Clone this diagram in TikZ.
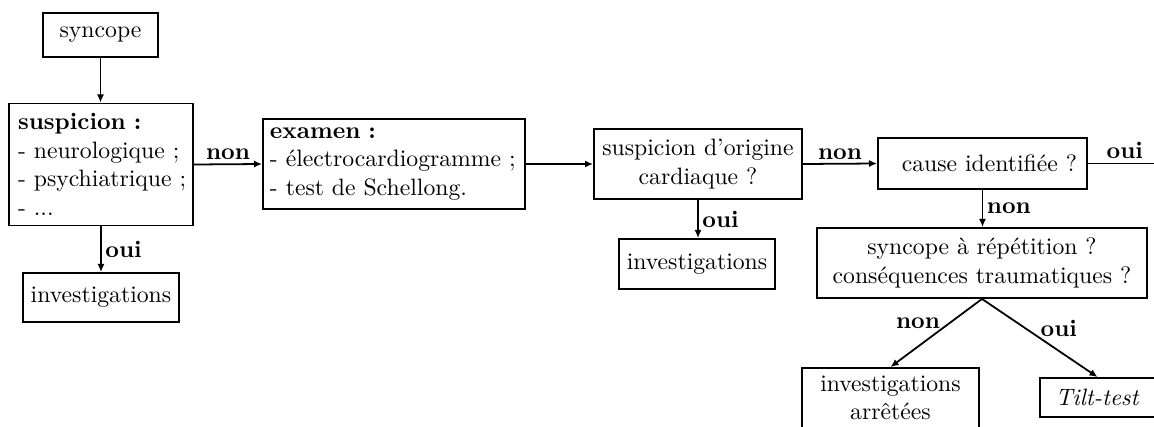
\documentclass[tikz,border=0pt]{standalone}
\usetikzlibrary{arrows.meta}
\tikzset{
  box/.style={draw, line width=0.8pt, inner sep=0pt, align=center},
  wh/.style 2 args={minimum width=#1*0.4219pt, minimum height=#2*0.4219pt},
  link/.style={line width=0.75pt},
  lab/.style={font=\bfseries, inner sep=1.5pt}
}
\begin{document}
\begin{tikzpicture}[
  x=0.4219pt, y=-0.4219pt,
  >={Latex[length=3.4pt,width=3pt]}
]
\useasboundingbox (0,0) rectangle (1154,427);
\clip (0,0) rectangle (1154,427);

% first column
\node[box, wh={115}{44}] (syncope) at (100.5,35) {syncope};
\node[box, align=left, inner xsep=0pt, text width=75pt, wh={184}{122},
  execute at begin node={\leftskip=2.5pt}]
  (susp) at (101,164.5)
  {\textbf{suspicion :}\\- neurologique ;\\- psychiatrique ;\\- ...};
\node[box, wh={156}{49}] (inv1) at (101,297.5) {investigations};

% examinations
\node[box, align=left, inner xsep=2.95pt, text width=104.64pt, wh={262}{90}]
  (exam) at (394,164)
  {\textbf{examen :}\\- électrocardiogramme ;\\- test de Schellong.};

% cardiac origin
\node[box, wh={208}{70}] (orig) at (698,164) {suspicion d'origine\\cardiaque ?};
\node[box, wh={156}{50}] (inv2) at (697,264) {investigations};

% cause
\node[box, align=right, inner xsep=4.2pt, text width=79.74pt, wh={209}{51}]
  (cause) at (982.5,163.5) {cause identifiée ?};
\coordinate (out) at (1170,163.5);
\node[box, wh={330}{70}] (rep) at (982,263)
  {syncope à répétition ?\\conséquences traumatiques ?};
\node[box, wh={177}{60}, anchor=north] (stop) at (890.5,367)
  {investigations\\arrêtées};
\node[box, wh={115}{39}] (tilt) at (1097.5,397.5) {\textit{Tilt-test}};

% connectors
\draw[link,->] (syncope.south) -- (syncope.south |- susp.north);
\draw[link,->] (susp.south) -- node[lab, right] {oui} (susp.south |- inv1.north);
\draw[link,->] (susp.east) -- node[lab, above] {non} (exam.west);
\draw[link,->] (exam.east) -- (orig.west);
\draw[link,->] (orig.south) -- node[lab, right] {oui} (orig.south |- inv2.north);
\draw[link,->] (orig.east) -- node[lab, above] {non} (cause.west);
\draw[link] (cause.east) -- node[lab, above, pos=0.45] {oui} (out);
\draw[link,->] (cause.south) -- node[lab, right] {non} (cause.south |- rep.north);
\draw[link,->] (rep.south) -- node[lab, above left, pos=0.45, inner sep=0pt] {non} (stop.north);
\draw[link,->] (rep.south) -- node[lab, above right, pos=0.5, inner sep=0pt] {oui} (tilt.north);
\end{tikzpicture}
\end{document}
